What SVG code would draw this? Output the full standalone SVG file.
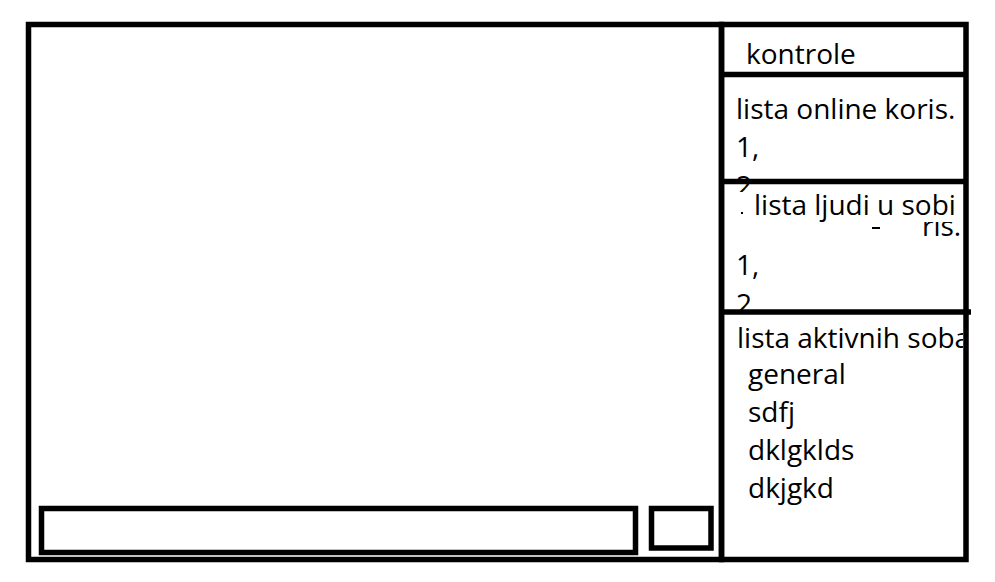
<svg xmlns="http://www.w3.org/2000/svg" width="995" height="582" viewBox="0 0 995 582">
<defs>
<style>
.ln{fill:none;stroke:#000;stroke-width:5.5}
.t{font-family:"Open Sans","Liberation Sans",sans-serif;font-size:28px;fill:#000}
</style>
<clipPath id="clip2"><rect x="725" y="170" width="60" height="22"/></clipPath>
<clipPath id="clipRis"><rect x="920" y="222" width="45" height="20"/></clipPath>
<clipPath id="clipRooms"><rect x="724" y="315" width="239" height="240"/></clipPath>
</defs>
<rect width="995" height="582" fill="#fff"/>

<g id="chat-area">
<rect class="ln" x="28.5" y="24.5" width="693" height="535"/>
</g>
<g id="message-input">
<rect class="ln" x="41.5" y="508.5" width="594" height="44"/>
</g>
<g id="send-button">
<rect class="ln" x="651.5" y="508.5" width="59.5" height="39.5"/>
</g>

<g id="controls">
<text class="t" x="746" y="64">kontrole</text>
</g>

<g id="online-users">
<text class="t" x="736" y="118.5">lista online koris.</text>
<text class="t" x="736" y="156.5">1,</text>
<text class="t" x="736" y="196" clip-path="url(#clip2)">2</text>
</g>

<g id="room-users">
<text class="t" x="754" y="215">lista ljudi u sobi</text>
<text class="t" x="922" y="236" clip-path="url(#clipRis)">ris.</text>
<rect x="872" y="227" width="8" height="2" fill="#000"/>
<rect x="741" y="212" width="2" height="2" fill="#000"/>
<text class="t" x="736" y="274.5">1,</text>
<text class="t" x="736" y="313.5">2</text>
</g>

<g id="active-rooms">
<text class="t" x="737" y="348" clip-path="url(#clipRooms)">lista aktivnih soba</text>
<text class="t" x="748" y="383.5">general</text>
<text class="t" x="748" y="421.5">sdfj</text>
<text class="t" x="748" y="459.5">dklgklds</text>
<text class="t" x="748" y="497.5">dkjgkd</text>
</g>

<g id="side-panel">
<rect class="ln" x="721.5" y="24.5" width="244.5" height="535"/>
<line class="ln" x1="721.5" y1="74.5" x2="966" y2="74.5"/>
<line class="ln" x1="721.5" y1="181.5" x2="966" y2="181.5"/>
<line class="ln" x1="720" y1="312" x2="971" y2="312"/>
</g>

<g id="connectors"></g>
</svg>
